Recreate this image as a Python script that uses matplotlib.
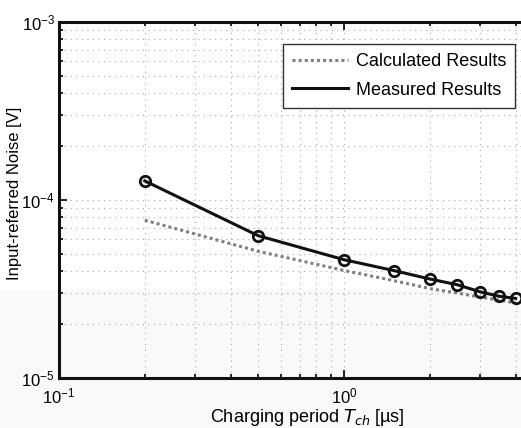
import numpy as np
import matplotlib
matplotlib.use("Agg")
import matplotlib.pyplot as plt
from matplotlib.patches import Rectangle
from matplotlib.lines import Line2D

plt.rcParams['font.family'] = ['Liberation Sans', 'DejaVu Sans']

# charging period [us]
t_ch = [0.2, 0.5, 1.0, 1.5, 2.0, 2.5, 3.0, 3.5, 4.0]
noise_calc = [7.7e-5, 5.15e-5, 4.02e-5, 3.52e-5, 3.18e-5, 3.0e-5, 2.85e-5, 2.74e-5, 2.64e-5]
noise_meas = [1.28e-4, 6.3e-5, 4.62e-5, 4.01e-5, 3.6e-5, 3.34e-5, 3.05e-5, 2.88e-5, 2.8e-5]

W, H = 521, 428
fig = plt.figure(figsize=(W / 100, H / 100), dpi=100, facecolor='white')

# faint grey band in the lower part of the scan
fig.patches.append(Rectangle((0, 0), 1, (H - 290) / H, transform=fig.transFigure,
                             facecolor='#f9f9f9', edgecolor='none', zorder=-10))

# axes run past the right edge (the picture is cropped)
x0, x1, y0, y1 = 59, 555, 22, 378
ax = fig.add_axes([x0 / W, (H - y1) / H, (x1 - x0) / W, (y1 - y0) / H])
ax.set_facecolor('none')

calc_style = dict(color='#808080', lw=2.2, linestyle=(0, (1, 1)))
meas_style = dict(color='#111111', lw=2.2)
ax.plot(t_ch, noise_calc, zorder=3, **calc_style)
ax.plot(t_ch, noise_meas, marker='o', markersize=7.5, markerfacecolor='none',
        markeredgewidth=2, zorder=4, **meas_style)

ax.set_xscale('log')
ax.set_yscale('log')
ax.set_xlim(0.1, 10 ** ((x1 - x0) / 285 - 1))
ax.set_ylim(1e-5, 1e-3)

ax.grid(True, which='both', linestyle=(0, (1, 4)), color='#aaaaaa', lw=0.8)
ax.tick_params(which='both', direction='in', top=True, right=True, labelsize=12, width=1.2)
ax.tick_params(which='major', length=6)
ax.tick_params(which='minor', length=3)
ax.tick_params(axis='x', pad=6)
ax.tick_params(axis='y', pad=3)
for s in ax.spines.values():
    s.set_linewidth(2.2)
    s.set_color('#111111')

ax.set_xlabel('Charging period $\\mathit{T}_{\\mathit{ch}}$ [µs]', fontsize=13)
ax.set_ylabel('Input-referred Noise [V]', fontsize=12)
ax.xaxis.set_label_coords((307 - x0) / (x1 - x0), -(417 - y1) / (y1 - y0), transform=ax.transAxes)
ax.yaxis.set_label_coords(-(x0 - 15) / (x1 - x0), (y1 - 193) / (y1 - y0), transform=ax.transAxes)
ax.xaxis.label.set_va('center')
ax.yaxis.label.set_va('center')

handles = [Line2D([], [], **calc_style), Line2D([], [], **meas_style)]
labels = ['Calculated Results', 'Measured Results']
leg = ax.legend(handles, labels, loc='upper right', bbox_to_anchor=(515 / W, 1 - 44 / H),
                bbox_transform=fig.transFigure, fontsize=13, handlelength=3.1,
                handletextpad=0.4, borderpad=0.5, labelspacing=0.65,
                borderaxespad=0, fancybox=False, framealpha=1, edgecolor='#333333')
leg.get_frame().set_linewidth(1.0)

fig.savefig('out.png', dpi=100, facecolor=fig.get_facecolor())
